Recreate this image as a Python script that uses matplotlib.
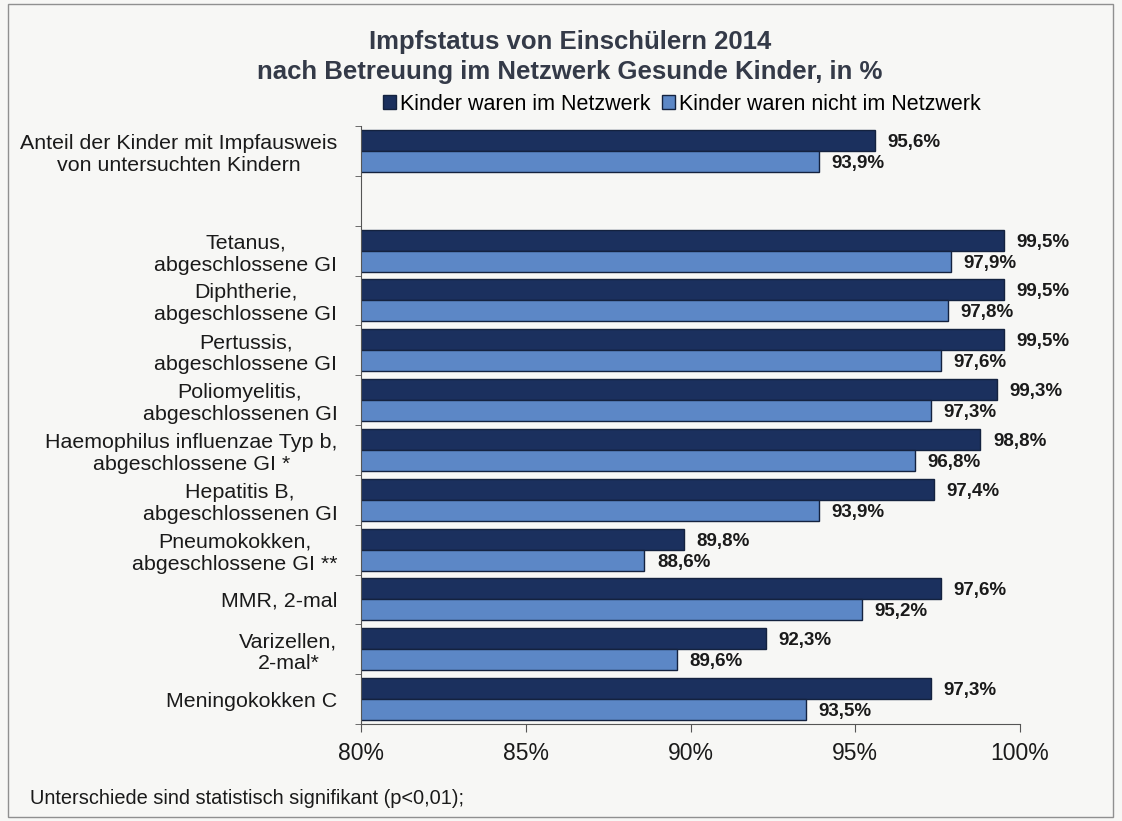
import numpy as np
import matplotlib
matplotlib.use('Agg')
import matplotlib.pyplot as plt
from matplotlib.patches import Rectangle

plt.rcParams['font.family'] = ['Liberation Sans', 'DejaVu Sans']

# data (top to bottom); None = empty slot after first group
categories = [
    'Anteil der Kinder mit Impfausweis\nvon untersuchten Kindern',
    None,
    'Tetanus,\nabgeschlossene GI',
    'Diphtherie,\nabgeschlossene GI',
    'Pertussis,\nabgeschlossene GI',
    'Poliomyelitis,\nabgeschlossenen GI',
    'Haemophilus influenzae Typ b,\nabgeschlossene GI *',
    'Hepatitis B,\nabgeschlossenen GI',
    'Pneumokokken,\nabgeschlossene GI **',
    'MMR, 2-mal',
    'Varizellen,\n2-mal*',
    'Meningokokken C',
]
im_netzwerk = [95.6, None, 99.5, 99.5, 99.5, 99.3, 98.8, 97.4, 89.8, 97.6, 92.3, 97.3]
nicht_netzwerk = [93.9, None, 97.9, 97.8, 97.6, 97.3, 96.8, 93.9, 88.6, 95.2, 89.6, 93.5]
series_names = ['Kinder waren im Netzwerk', 'Kinder waren nicht im Netzwerk']
x_ticks = [80, 85, 90, 95, 100]

dark = '#1b305e'
light = '#5c87c6'
edge = '#14223f'
bg = '#f7f7f5'
txt = '#1a1a1a'

fig = plt.figure(figsize=(11.22, 8.21), dpi=100, facecolor=bg)
ax = fig.add_axes([361/1122, 1-724/821, (1020-361)/1122, (724-126)/821])
ax.set_facecolor(bg)

h = 0.42
for i, (a, b) in enumerate(zip(im_netzwerk, nicht_netzwerk)):
    if a is None:
        continue
    ax.barh(i - h/2, a, height=h, color=dark, edgecolor=edge, linewidth=1,
            label=series_names[0] if i == 0 else None)
    ax.barh(i + h/2, b, height=h, color=light, edgecolor=edge, linewidth=1,
            label=series_names[1] if i == 0 else None)
    ax.text(a + 0.38, i - h/2 + 0.04, f'{a:.1f}%'.replace('.', ','), va='center',
            ha='left', fontsize=13.5, fontweight='bold', color=txt)
    ax.text(b + 0.38, i + h/2 + 0.04, f'{b:.1f}%'.replace('.', ','), va='center',
            ha='left', fontsize=13.5, fontweight='bold', color=txt)

ax.set_xlim(80, 100)
ax.set_ylim(len(categories) - 0.5, -0.5)
ax.set_xticks(x_ticks)
ax.set_xticklabels([f'{t}%' for t in x_ticks], fontsize=16.5, color=txt)
ax.tick_params(axis='x', length=6, color='#555555', pad=7)

ax.set_yticks(range(len(categories)))
ax.set_yticklabels([c if c else '' for c in categories], fontsize=15.4,
                   color=txt, multialignment='center')
ax.tick_params(axis='y', which='major', length=0, pad=17)
ax.set_yticks(np.arange(-0.5, len(categories) + 0.5, 1), minor=True)
ax.tick_params(axis='y', which='minor', length=4, color='#555555')

for s in ['top', 'right']:
    ax.spines[s].set_visible(False)
for s in ['left', 'bottom']:
    ax.spines[s].set_color('#555555')

fig.text(570/1122, 1-42/821, 'Impfstatus von Einschülern 2014', ha='center', va='center',
         fontsize=18.5, fontweight='bold', color='#343a48')
fig.text(570/1122, 1-72/821, 'nach Betreuung im Netzwerk Gesunde Kinder, in %', ha='center',
         va='center', fontsize=18.5, fontweight='bold', color='#343a48')

fig.legend(loc='center', bbox_to_anchor=(682/1122, 1-104/821), ncol=2, frameon=False,
           fontsize=15.5, handlelength=0.6, handleheight=0.6, handletextpad=0.2,
           columnspacing=0.5)

fig.text(30/1122, 1-798/821, 'Unterschiede sind statistisch signifikant (p<0,01);',
         ha='left', va='center', fontsize=14.4, color=txt)

fig.add_artist(Rectangle((8/1122, 4/821), (1113-8)/1122, (817-4)/821, transform=fig.transFigure,
                         fill=False, edgecolor='#909090', linewidth=1))

fig.savefig('out.png', dpi=100, facecolor=bg)
